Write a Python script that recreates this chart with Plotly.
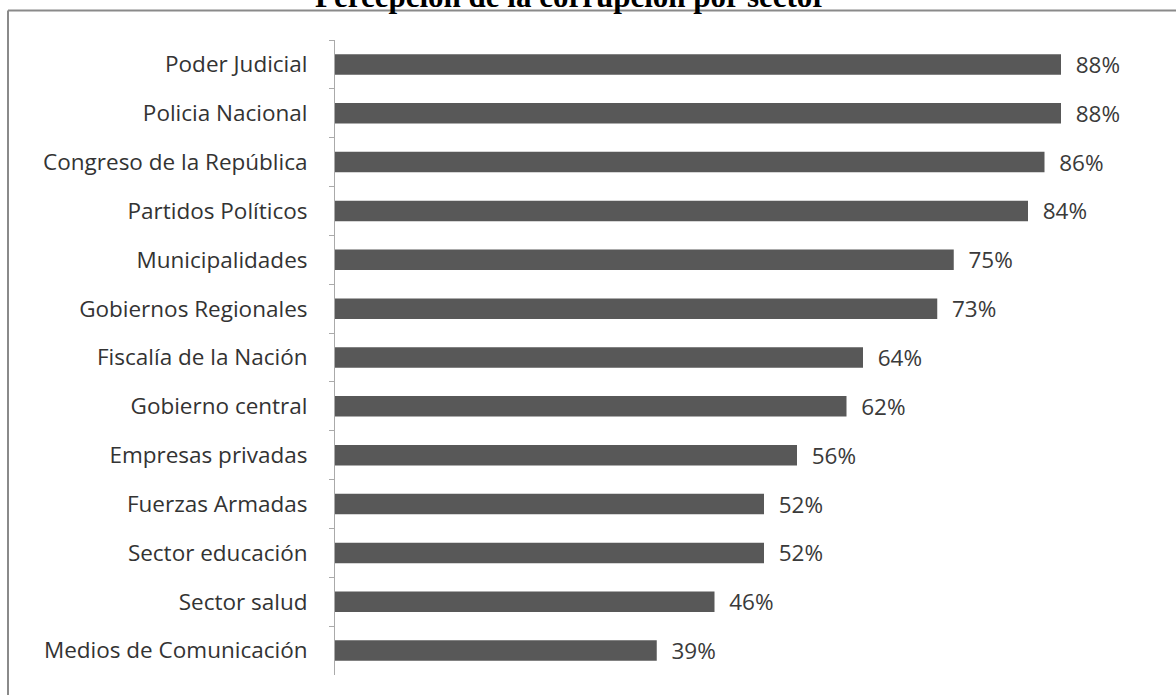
import plotly.graph_objects as go

title = "Percepción de la corrupción por sector"
sectors = [
    "Poder Judicial", "Policia Nacional", "Congreso de la República",
    "Partidos Políticos", "Municipalidades", "Gobiernos Regionales",
    "Fiscalía de la Nación", "Gobierno central", "Empresas privadas",
    "Fuerzas Armadas", "Sector educación", "Sector salud",
    "Medios de Comunicación",
]
values = [88, 88, 86, 84, 75, 73, 64, 62, 56, 52, 52, 46, 39]

W, H = 1176, 695
L, R, T, B = 335, 16, 40, 20
pw = W - L - R
ph = H - T - B

fig = go.Figure(go.Bar(
    x=values, y=sectors, orientation="h",
    marker=dict(color="#585858", line=dict(width=0)),
    width=0.42,
    text=[f"{v}%" for v in values],
    texttemplate="  %{text}",
    textposition="outside",
    constraintext="none",
    textfont=dict(family="Open Sans", size=22.5, color="#3a3a3a"),
    cliponaxis=False,
))

fig.update_layout(
    width=W, height=H,
    margin=dict(l=L, r=R, t=T, b=B),
    paper_bgcolor="white", plot_bgcolor="white",
    showlegend=False,
    xaxis=dict(range=[0, 100], visible=False, fixedrange=True),
    yaxis=dict(
        autorange="reversed",
        tickson="boundaries",
        ticks="outside", ticklen=5, tickcolor="#aaaaaa",
        showline=True, linecolor="#aaaaaa", linewidth=1,
        showgrid=False, fixedrange=True,
        tickfont=dict(family="Open Sans", size=22.5, color="#333333"),
        ticklabelstandoff=22,
    ),
    annotations=[dict(
        text=f"<b>{title}</b>", xref="paper", yref="paper",
        x=(570 - L) / pw, y=(H - B - 16) / ph,
        xanchor="center", yanchor="bottom", showarrow=False,
        font=dict(family="Liberation Serif", size=31, color="black"),
    )],
    shapes=[
        dict(type="line", xref="paper", yref="paper",
             x0=(8 - L) / pw, x1=(W + 5 - L) / pw,
             y0=(H - B - 10.5) / ph, y1=(H - B - 10.5) / ph,
             line=dict(color="#8a8a8a", width=2)),
        dict(type="line", xref="paper", yref="paper",
             x0=(8 - L) / pw, x1=(8 - L) / pw,
             y0=(H - B - 10.5) / ph, y1=-(B + 10) / ph,
             line=dict(color="#8a8a8a", width=2)),
    ],
)

fig.write_html("out.html", config={"displayModeBar": False},
               post_script="document.body.style.margin='0';")
